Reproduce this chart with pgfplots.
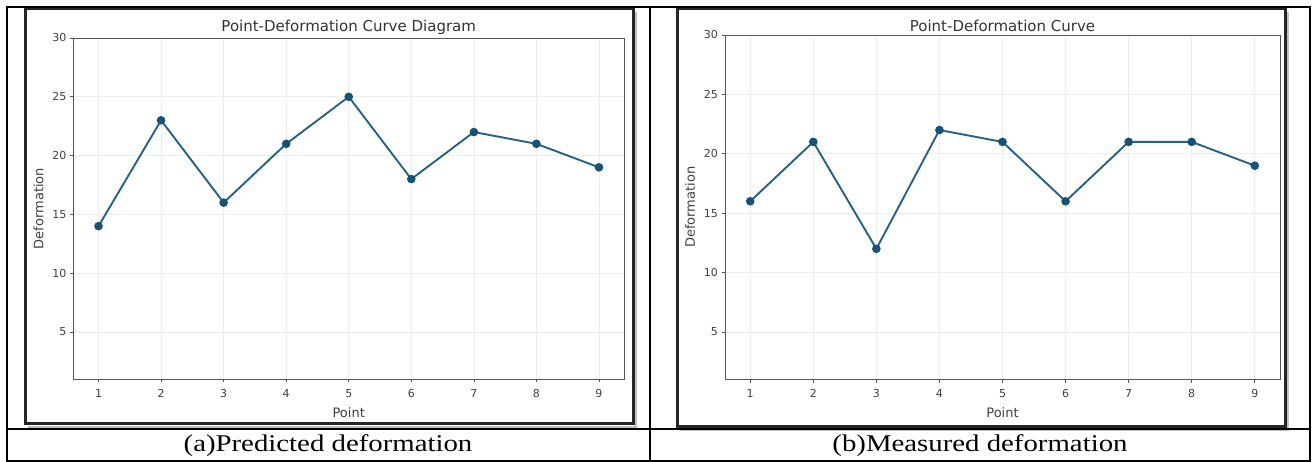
\documentclass[border=0pt]{standalone}
\usepackage{pgfplots}
\pgfplotsset{compat=1.18}
\usepackage{fontspec}
\setmainfont{DejaVu Sans}
\newfontfamily\capfont{Liberation Serif}
\definecolor{lineblue}{RGB}{38,98,132}
\definecolor{markblue}{RGB}{22,82,118}
\definecolor{axgray}{RGB}{85,85,85}
\pgfplotsset{
  panel/.style={
    scale only axis,
    anchor=south west,
    xmin=0.6, xmax=9.4, ymin=1, ymax=30,
    xtick={1,...,9}, ytick={5,10,...,30},
    tick pos=left,
    tick align=outside, major tick length=3.5pt,
    tick style={axgray, line width=0.6pt},
    axis line style={axgray, line width=0.9pt},
    grid=major, grid style={black!7, line width=0.6pt},
    ticklabel style={font=\fontsize{11}{12}\selectfont, text=black!75},
    xticklabel style={yshift=-3pt},
    /pgf/number format/assume math mode=true,
    xlabel={Point}, ylabel={Deformation},
    label style={font=\fontsize{13}{14}\selectfont, text=black!75},
    xlabel style={yshift=-3pt},
    ylabel style={yshift=2pt},
    title style={font=\fontsize{15}{16}\selectfont, text=black!80, yshift=-6pt},
  },
  curve/.style={color=lineblue, line width=1.9pt, mark=*, mark size=3.3pt,
      mark options={fill=markblue, draw=markblue}},
}
\begin{document}
\begin{tikzpicture}
\path (0pt,0pt) rectangle (1312pt,462pt);
% image frames
\fill[white] (25pt,38pt) rectangle (633pt,453pt);
\draw[black!25, line width=2pt] (28pt,35pt) -- (636pt,35pt) -- (636pt,450pt);
\draw[black!85, line width=3pt] (25pt,38pt) rectangle (633pt,453pt);
\draw[black!25, line width=2pt] (680pt,32pt) -- (1288pt,32pt) -- (1288pt,450pt);
\draw[black!85, line width=3pt] (677pt,35pt) rectangle (1285pt,453pt);

\begin{axis}[panel, at={(73.5pt,83pt)}, width=550.5pt, height=341pt,
  title={Point-Deformation Curve Diagram}]
\addplot[curve] coordinates {(1,14) (2,23) (3,16) (4,21) (5,25) (6,18) (7,22) (8,21) (9,19)};
\end{axis}

\begin{axis}[panel, at={(725pt,82.5pt)}, width=555pt, height=344.5pt,
  title={Point-Deformation Curve}]
\addplot[curve] coordinates {(1,16) (2,21) (3,12) (4,22) (5,21) (6,16) (7,21) (8,21) (9,19)};
\end{axis}

% table lines
\draw[black, line width=2pt] (7pt,1pt) rectangle (1310pt,455pt);
\draw[black, line width=1.5pt] (650pt,1pt) -- (650pt,455pt);
\draw[black, line width=1.5pt] (7pt,33pt) -- (1310pt,33pt);
\node[font=\capfont\fontsize{24}{26}\selectfont, anchor=base, xscale=1.2] at (328pt,10pt) {(a)Predicted deformation};
\node[font=\capfont\fontsize{24}{26}\selectfont, anchor=base, xscale=1.2] at (980pt,10pt) {(b)Measured deformation};
\end{tikzpicture}
\end{document}
